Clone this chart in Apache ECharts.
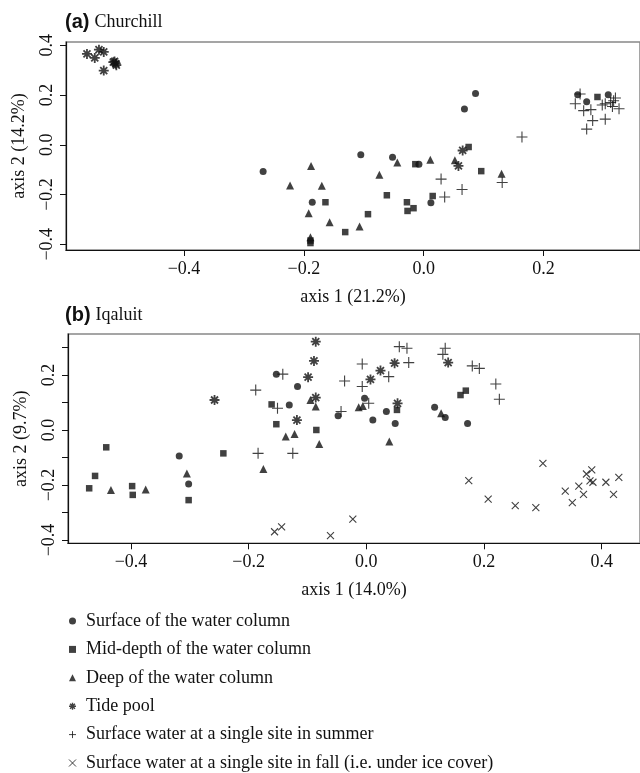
<!DOCTYPE html>
<html><head><meta charset="utf-8">
<script src="https://cdn.jsdelivr.net/npm/echarts@6/dist/echarts.min.js"></script>
<style>html,body{margin:0;padding:0;background:#fff}#c{width:640px;height:773px}</style>
</head><body><div id="c"></div>
<script>
// ---------- Data: (a) Churchill ----------
const aSurface = [[-0.268,-0.107],[-0.186,-0.231],[-0.105,-0.040],[-0.052,-0.050],[-0.008,-0.078],[0.012,-0.233],[0.0865,0.206],[0.068,0.144],[0.257,0.201],[0.272,0.173],[0.308,0.201]];
const aMid = [[-0.164,-0.231],[-0.189,-0.385],[-0.189,-0.395],[-0.0615,-0.203],[-0.028,-0.231],[-0.027,-0.266],[-0.017,-0.255],[-0.014,-0.078],[0.015,-0.206],[0.075,-0.009],[0.096,-0.106],[-0.093,-0.279],[-0.131,-0.351],[0.290,0.192]];
const aDeep = [[-0.188,-0.085],[-0.223,-0.164],[-0.170,-0.165],[-0.192,-0.275],[-0.189,-0.372],[-0.157,-0.311],[-0.107,-0.329],[-0.074,-0.121],[-0.044,-0.071],[0.011,-0.060],[0.052,-0.062],[0.130,-0.117]];
const aTide = [[-0.562,0.365],[-0.549,0.349],[-0.542,0.382],[-0.534,0.373],[-0.534,0.298],[-0.516,0.335],[-0.514,0.326],[-0.513,0.320],[-0.518,0.332],[0.065,-0.023],[0.058,-0.085]];
const aSummer = [[0.029,-0.138],[0.035,-0.210],[0.064,-0.180],[0.131,-0.152],[0.164,0.031],[0.261,0.204],[0.253,0.165],[0.267,0.137],[0.279,0.141],[0.282,0.097],[0.272,0.063],[0.303,0.103],[0.298,0.160],[0.303,0.165],[0.312,0.170],[0.317,0.177],[0.320,0.188],[0.315,0.154],[0.326,0.145]];

// ---------- Data: (b) Iqaluit ----------
const bSurface = [[-0.153,0.203],[-0.117,0.158],[-0.131,0.091],[-0.048,0.052],[-0.003,0.115],[0.034,0.067],[0.011,0.036],[0.049,0.024],[0.116,0.083],[0.134,0.045],[0.172,0.024],[-0.318,-0.095],[-0.302,-0.196]];
const bMid = [[-0.161,0.093],[-0.153,0.021],[-0.085,0.0],[0.052,0.073],[0.160,0.127],[0.169,0.143],[-0.442,-0.063],[-0.461,-0.167],[-0.471,-0.212],[-0.398,-0.204],[-0.397,-0.236],[-0.302,-0.255],[-0.243,-0.085]];
const bDeep = [[-0.095,0.109],[-0.086,0.085],[-0.013,0.083],[-0.006,0.087],[0.127,0.061],[-0.137,-0.024],[-0.122,-0.015],[-0.080,-0.051],[0.039,-0.042],[-0.175,-0.142],[-0.305,-0.158],[-0.434,-0.218],[-0.375,-0.216]];
const bTide = [[-0.086,0.321],[-0.089,0.251],[-0.099,0.192],[-0.258,0.109],[-0.086,0.118],[0.024,0.216],[0.007,0.184],[0.048,0.243],[0.139,0.245],[0.053,0.097],[-0.118,0.036]];
const bSummer = [[-0.142,0.203],[-0.188,0.145],[-0.151,0.079],[-0.037,0.178],[-0.007,0.158],[-0.007,0.240],[0.038,0.194],[0.004,0.097],[-0.043,0.067],[0.056,0.303],[0.069,0.297],[0.072,0.245],[0.134,0.297],[0.130,0.275],[0.180,0.233],[0.192,0.224],[0.220,0.167],[0.226,0.112],[-0.184,-0.085],[-0.125,-0.085]];
const bFall = [[-0.156,-0.370],[-0.144,-0.352],[-0.061,-0.384],[-0.023,-0.324],[0.174,-0.184],[0.207,-0.251],[0.253,-0.275],[0.288,-0.282],[0.300,-0.121],[0.338,-0.222],[0.350,-0.264],[0.361,-0.204],[0.369,-0.234],[0.374,-0.160],[0.383,-0.145],[0.380,-0.185],[0.385,-0.190],[0.407,-0.190],[0.420,-0.234],[0.429,-0.172]];

// ---------- Ticks / labels ----------
const aXTicks = [-0.4,-0.2,0,0.2];
const aYTicks = [-0.4,-0.2,0,0.2,0.4];
const bXTicks = [-0.4,-0.2,0,0.2,0.4];
const bYTicks = [-0.4,-0.3,-0.2,-0.1,0,0.1,0.2,0.3];
const bYLabels = [-0.4,-0.2,0,0.2];

const groupNames = ['Surface of the water column','Mid-depth of the water column','Deep of the water column','Tide pool','Surface water at a single site in summer','Surface water at a single site in fall (i.e. under ice cover)'];
const axisTitlesA = ['axis 1 (21.2%)','axis 2 (14.2%)'];
const axisTitlesB = ['axis 1 (14.0%)','axis 2 (9.7%)'];

const SERIF = '"Liberation Serif","Times New Roman",serif';
const INK = '#111';
const ASTER = 'path://M0,5L10,5M5,0L5,10M1.5,1.5L8.5,8.5M1.5,8.5L8.5,1.5';
const PLUS = 'path://M0,5L10,5M5,0L5,10';
const CROSS = 'path://M0,0L10,10M0,10L10,0';

const styles = [
  {symbol:'circle', size:7, itemStyle:{color:INK}},
  {symbol:'rect', size:6.5, itemStyle:{color:INK}},
  {symbol:'triangle', size:8, itemStyle:{color:INK}},
  {symbol:ASTER, size:10, itemStyle:{color:'none', borderColor:INK, borderWidth:1.8}},
  {symbol:PLUS, size:11, itemStyle:{color:'none', borderColor:INK, borderWidth:1.1}},
  {symbol:CROSS, size:7, itemStyle:{color:'none', borderColor:INK, borderWidth:1.1}}
];

function fmt(v){ return (v < 0 ? '\u2212' : '') + Math.abs(v).toFixed(1); }

function xAx(gi, min, max, ticks, name){
  return {type:'value', gridIndex:gi, min, max, name, nameLocation:'middle', nameGap:38,
    nameTextStyle:{fontFamily:SERIF, fontSize:18, color:INK},
    axisLine:{show:true, onZero:false, lineStyle:{color:INK, width:1.2}},
    axisTick:{show:true, length:6, customValues:ticks, lineStyle:{color:INK, width:1}},
    axisLabel:{customValues:ticks, formatter:fmt, margin:10, fontFamily:SERIF, fontSize:18, color:INK},
    splitLine:{show:false}};
}
function yAx(gi, min, max, ticks, labels, name){
  return {type:'value', gridIndex:gi, min, max, name, nameLocation:'middle', nameGap:38,
    nameTextStyle:{fontFamily:SERIF, fontSize:18, color:INK},
    axisLine:{show:true, onZero:false, lineStyle:{color:INK, width:1.2}},
    axisTick:{show:true, length:6, customValues:ticks, lineStyle:{color:INK, width:1}},
    axisLabel:{customValues:labels, formatter:fmt, rotate:90, margin:10, fontFamily:SERIF, fontSize:18, color:INK},
    splitLine:{show:false}};
}

const aData = [aSurface, aMid, aDeep, aTide, aSummer];
const bData = [bSurface, bMid, bDeep, bTide, bSummer, bFall];
const series = [];
aData.forEach((d,i) => series.push({type:'scatter', name:groupNames[i], xAxisIndex:0, yAxisIndex:0, data:d,
  symbol:styles[i].symbol, symbolSize:styles[i].size, itemStyle:styles[i].itemStyle, silent:true, emphasis:{disabled:true}}));
bData.forEach((d,i) => series.push({type:'scatter', name:groupNames[i], xAxisIndex:1, yAxisIndex:1, data:d,
  symbol:styles[i].symbol, symbolSize:styles[i].size, itemStyle:styles[i].itemStyle, silent:true, emphasis:{disabled:true}}));

const titleRich = {
  b:{fontFamily:'"Liberation Sans",Arial,sans-serif', fontWeight:'bold', fontSize:20, color:INK},
  s:{fontFamily:SERIF, fontWeight:'normal', fontSize:18, color:INK}
};

const legendIcons = [
  {icon:'circle', itemStyle:{color:INK}},
  {icon:'rect', itemStyle:{color:INK}},
  {icon:'triangle', itemStyle:{color:INK}},
  {icon:ASTER, itemStyle:{color:'none', borderColor:INK, borderWidth:1.4}},
  {icon:PLUS, itemStyle:{color:'none', borderColor:INK, borderWidth:1}},
  {icon:CROSS, itemStyle:{color:'none', borderColor:INK, borderWidth:1}}
];

const option = {
  backgroundColor:'#fff',
  animation:false,
  title:[
    {text:'{b|(a)} {s|Churchill}', left:60, top:7, textStyle:{rich:titleRich}},
    {text:'{b|(b)} {s|Iqaluit}', left:60, top:300, textStyle:{rich:titleRich}}
  ],
  grid:[
    {left:66, top:42, width:576, height:208, show:true, borderColor:'#888', borderWidth:1.5, backgroundColor:'transparent'},
    {left:68, top:334, width:574, height:209.3, show:true, borderColor:'#888', borderWidth:1.5, backgroundColor:'transparent'}
  ],
  xAxis:[ xAx(0,-0.597,0.361,aXTicks,axisTitlesA[0]), xAx(1,-0.507,0.465,bXTicks,axisTitlesB[0]) ],
  yAxis:[ yAx(0,-0.423,0.413,aYTicks,aYTicks,axisTitlesA[1]), yAx(1,-0.412,0.349,bYTicks,bYLabels,axisTitlesB[1]) ],
  legend:{orient:'vertical', left:66.5, top:612, padding:0, itemWidth:7, itemHeight:7, itemGap:10.4, selectedMode:false,
    textStyle:{fontFamily:SERIF, fontSize:18, color:INK, lineHeight:18, padding:[0,0,0,5]},
    data: groupNames.map((n,i) => Object.assign({name:n}, legendIcons[i]))},
  series
};
const chart = echarts.init(document.getElementById('c'), null, {renderer:'canvas'});
chart.setOption(option);
</script></body></html>
